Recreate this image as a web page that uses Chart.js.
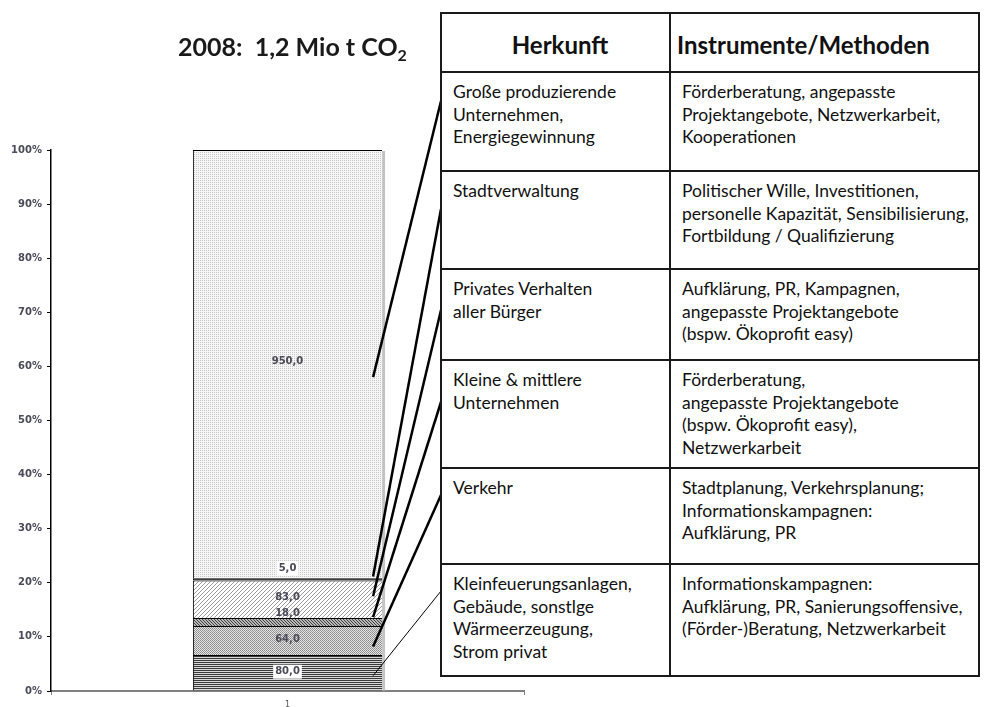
<!DOCTYPE html>
<html>
<head>
<meta charset="utf-8">
<script src="https://cdn.jsdelivr.net/npm/chart.js@4.4.1/dist/chart.umd.min.js"></script>
<style>
body { margin: 0; background: #fff; width: 990px; height: 707px; position: relative; overflow: hidden; }
#c { position: absolute; left: 0; top: 0; }
#title { position: absolute; left: 120px; width: 345px; top: 31px; text-align: center;
  font: bold 25px Lato, sans-serif; color: #1a1a1a; white-space: pre; }
#title sub { font-size: 16px; vertical-align: -5px; line-height: 0; }
#tbl { position: absolute; left: 440px; top: 12px; border-collapse: collapse; table-layout: fixed;
  font-family: Lato, sans-serif; font-size: 17.5px; color: #111; background: #fff; }
#tbl td, #tbl th { border: 2px solid #1a1a1a; vertical-align: top; padding: 8px 2px 0 11px; line-height: 22.5px; white-space: nowrap; }
#tbl th { font-size: 24px; vertical-align: middle; padding-top: 6px; }
#tbl th.l { text-align: left; padding-left: 6px; }
</style>
</head>
<body>
<canvas id="c" width="990" height="707"></canvas>
<div id="title">2008:  1,2 Mio t CO<sub>2</sub></div>
<table id="tbl"><colgroup><col style="width:229px"><col style="width:309px"></colgroup><tbody></tbody></table>
<script>
// data, bottom segment first
const categories = ['1'];
const sources = [
  'Kleinfeuerungsanlagen,\nGebäude, sonstlge\nWärmeerzeugung,\nStrom privat',
  'Verkehr',
  'Kleine & mittlere\nUnternehmen',
  'Privates Verhalten\naller Bürger',
  'Stadtverwaltung',
  'Große produzierende\nUnternehmen,\nEnergiegewinnung'
];
const methods = [
  'Informationskampagnen:\nAufklärung, PR, Sanierungsoffensive,\n(Förder-)Beratung, Netzwerkarbeit',
  'Stadtplanung, Verkehrsplanung;\nInformationskampagnen:\nAufklärung, PR',
  'Förderberatung,\nangepasste Projektangebote\n(bspw. Ökoprofit easy),\nNetzwerkarbeit',
  'Aufklärung, PR, Kampagnen,\nangepasste Projektangebote\n(bspw. Ökoprofit easy)',
  'Politischer Wille, Investitionen,\npersonelle Kapazität, Sensibilisierung,\nFortbildung / Qualifizierung',
  'Förderberatung, angepasste\nProjektangebote, Netzwerkarbeit,\nKooperationen'
];
const emissions = [80, 64, 18, 83, 5, 950]; // 1000 t CO2
const totalEmission = 1200;
const percentTicks = [0, 10, 20, 30, 40, 50, 60, 70, 80, 90, 100];

// table (top row = last segment)
const rowHeights = [99, 98, 91, 108, 96, 112];
const tbody = document.querySelector('#tbl tbody');
let hr = tbody.insertRow();
hr.style.height = '59px';
hr.innerHTML = '<th>Herkunft</th><th class="l">Instrumente/Methoden</th>';
for (let i = sources.length - 1; i >= 0; i--) {
  const r = tbody.insertRow();
  r.style.height = rowHeights[sources.length - 1 - i] + 'px';
  r.insertCell().innerText = sources[i];
  r.insertCell().innerText = methods[i];
}

const ctx = document.getElementById('c').getContext('2d');

function pattern(w, h, bg, dots) {
  const c = document.createElement('canvas');
  c.width = w; c.height = h;
  const g = c.getContext('2d');
  g.fillStyle = bg; g.fillRect(0, 0, w, h);
  dots.forEach(d => { g.fillStyle = d[2]; g.fillRect(d[0], d[1], 1, 1); });
  return ctx.createPattern(c, 'repeat');
}
const fills = [
  pattern(1, 2, '#d8d8d8', [[0, 0, '#3a3a3a']]),                       // horizontal lines
  pattern(2, 2, '#e4e4e4', [[0, 0, '#8a8a8a'], [1, 1, '#9a9a9a']]),    // checker
  pattern(3, 3, '#b8b8b8', [[0, 0, '#404040'], [1, 1, '#404040'], [2, 2, '#404040']]),
  pattern(4, 4, '#ffffff', [[3, 0, '#9c9c9c'], [2, 1, '#9c9c9c'], [1, 2, '#9c9c9c'], [0, 3, '#9c9c9c']]),
  '#000000',
  pattern(2, 2, '#f6f6f6', [[0, 0, '#c6c6c6']])                        // fine dots
];
const topBorder = [1, 1, 1, 1, 2, 1];
const labelShift = [-1, -1, -9, -2, -11, -3];
const labelBox = [true, false, false, false, true, false];
const leaderShift = [3, 6, -5, -3, -3, 13];
const leaderEnds = [591, 495, 402, 310, 209, 101];
const leaderWidth = [1, 2.5, 2.5, 2.5, 2.5, 2.5];

const fmt = v => v.toFixed(1).replace('.', ',');

const barDecor = {
  id: 'barDecor',
  beforeDatasetsDraw(chart) {
    const metas = chart.getSortedVisibleDatasetMetas();
    const first = metas[0].data[0], last = metas[metas.length - 1].data[0];
    const c = chart.ctx;
    c.save();
    c.fillStyle = '#c4c4c4';
    c.fillRect(first.x + first.width / 2, last.y + 1, 3, first.base - last.y - 1);
    c.restore();
  },
  afterDatasetsDraw(chart) {
    const c = chart.ctx;
    c.save();
    chart.data.datasets.forEach((ds, i) => {
      const el = chart.getDatasetMeta(i).data[0];
      const mid = (el.y + el.base) / 2;
      // value label
      const txt = fmt(ds.data[0]);
      c.font = 'bold 10px "DejaVu Sans"';
      c.textAlign = 'center';
      c.textBaseline = 'middle';
      const ly = mid + labelShift[i];
      if (labelBox[i]) {
        const w = c.measureText(txt).width;
        c.fillStyle = '#fff';
        c.fillRect(el.x - w / 2 - 2, ly - 7, w + 4, 14);
      }
      c.fillStyle = '#4a4a58';
      c.fillText(txt, el.x, ly);
      // leader line to the table row
      c.strokeStyle = '#000';
      c.lineWidth = leaderWidth[i];
      c.beginPath();
      c.moveTo(el.x + el.width / 2 - 9, mid + leaderShift[i]);
      c.lineTo(441, leaderEnds[i]);
      c.stroke();
    });
    c.restore();
  }
};

new Chart(ctx, {
  type: 'bar',
  data: {
    labels: categories,
    datasets: emissions.map((v, i) => ({
      label: sources[i].replace(/\n/g, ' '),
      data: [v],
      backgroundColor: fills[i],
      borderColor: '#000',
      borderWidth: { top: topBorder[i], left: 1, right: 0, bottom: 0 },
      borderSkipped: false,
      barPercentage: 1,
      categoryPercentage: 0.4
    }))
  },
  options: {
    responsive: false,
    animation: false,
    layout: { padding: { left: 0, top: 150, right: 466, bottom: 0 } },
    plugins: { legend: { display: false }, tooltip: { enabled: false } },
    scales: {
      x: {
        stacked: true,
        grid: { display: true, offset: true, drawOnChartArea: false, tickLength: 4, color: '#808080' },
        border: { color: '#808080', width: 2 },
        ticks: { color: '#555', font: { family: 'DejaVu Sans', size: 8 }, padding: 5 },
        afterFit: s => { s.height = 16; }
      },
      y: {
        stacked: true,
        min: 0,
        max: totalEmission,
        afterBuildTicks: s => { s.ticks = percentTicks.map(p => ({ value: p / 100 * totalEmission })); },
        grid: { drawOnChartArea: false, tickLength: 4, color: '#000' },
        border: { color: '#000', width: 1.5 },
        ticks: {
          color: '#4a4a5a',
          padding: 5,
          font: { family: 'DejaVu Sans', size: 10, weight: 'bold' },
          callback: v => Math.round(v / totalEmission * 100) + '%'
        },
        afterFit: s => { s.width = 51; }
      }
    }
  },
  plugins: [barDecor]
});
</script>
</body>
</html>
